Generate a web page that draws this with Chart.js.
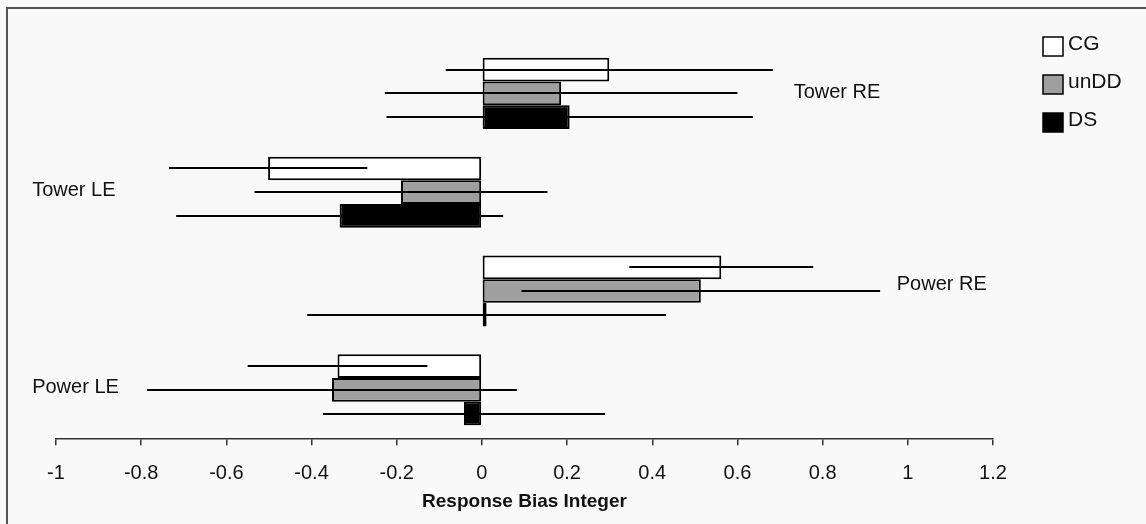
<!DOCTYPE html>
<html>
<head>
<meta charset="utf-8">
<script src="https://cdn.jsdelivr.net/npm/chart.js@4/dist/chart.umd.min.js"></script>
<style>
  html, body { margin: 0; padding: 0; background: #f9f9f9; }
  #wrap { width: 1146px; height: 524px; position: relative; }
</style>
</head>
<body>
<div id="wrap"><canvas id="c" width="1146" height="524"></canvas></div>
<script>
// ---- data ----
const categories = ['Tower RE', 'Tower LE', 'Power RE', 'Power LE'];
const seriesNames = ['CG', 'unDD', 'DS'];
const cgValues   = [0.299, -0.502, 0.562, -0.339];
const unddValues = [0.186, -0.190, 0.514, -0.352];
const dsValues   = [0.206, -0.334, 0.011, -0.042];
const cgErrors   = [0.384, 0.233, 0.216, 0.211];
const unddErrors = [0.414, 0.344, 0.421, 0.434];
const dsErrors   = [0.430, 0.384, 0.421, 0.331];
const xTickMin = -1, xTickMax = 1.2, xTickStep = 0.2;
const xTitle = 'Response Bias Integer';

const FONT = '"Liberation Sans", Arial, sans-serif';
const fills = ['#ffffff', '#9f9f9f', '#000000'];
const allErrors = [cgErrors, unddErrors, dsErrors];

const frame = {
  id: 'frame',
  beforeDraw(chart) {
    const ctx = chart.ctx;
    ctx.save();
    ctx.strokeStyle = '#555';
    ctx.lineWidth = 2;
    ctx.beginPath();
    ctx.moveTo(7, 524); ctx.lineTo(7, 8); ctx.lineTo(1146, 8);
    ctx.stroke();
    ctx.restore();
  }
};

const errorBars = {
  id: 'errorBars',
  afterDatasetsDraw(chart) {
    const ctx = chart.ctx, xs = chart.scales.x;
    ctx.save();
    ctx.strokeStyle = '#000';
    ctx.lineWidth = 2;
    chart.data.datasets.forEach((ds, i) => {
      const meta = chart.getDatasetMeta(i);
      meta.data.forEach((bar, j) => {
        const v = ds.data[j], e = allErrors[i][j];
        const y = Math.round(bar.y);
        ctx.beginPath();
        ctx.moveTo(xs.getPixelForValue(v - e), y);
        ctx.lineTo(xs.getPixelForValue(v + e), y);
        ctx.stroke();
      });
    });
    ctx.restore();
  }
};

// category labels placed beside the bars
const catLabels = {
  id: 'catLabels',
  afterDraw(chart) {
    const ctx = chart.ctx, xs = chart.scales.x, ys = chart.scales.y;
    const anchors = [0.732, -1.056, 0.974, -1.056];
    const dy = [-1, -2, -7, -2];
    ctx.save();
    ctx.fillStyle = '#111';
    ctx.font = '20px ' + FONT;
    ctx.textAlign = 'left';
    ctx.textBaseline = 'middle';
    categories.forEach((c, j) => {
      ctx.fillText(c, xs.getPixelForValue(anchors[j]), ys.getPixelForValue(j) + dy[j]);
    });
    ctx.restore();
  }
};

const legendBox = {
  id: 'legendBox',
  afterDraw(chart) {
    const ctx = chart.ctx;
    ctx.save();
    ctx.font = '21px ' + FONT;
    ctx.textBaseline = 'middle';
    ctx.textAlign = 'left';
    seriesNames.forEach((n, i) => {
      const y = 37 + i * 38;
      ctx.fillStyle = fills[i];
      ctx.fillRect(1043, y, 20, 19);
      ctx.strokeStyle = '#000';
      ctx.lineWidth = 1.5;
      ctx.strokeRect(1043, y, 20, 19);
      ctx.fillStyle = '#111';
      ctx.fillText(n, 1068, y + 7);
    });
    ctx.restore();
  }
};

new Chart(document.getElementById('c'), {
  type: 'bar',
  data: {
    labels: categories,
    datasets: [
      { label: seriesNames[0], data: cgValues,   backgroundColor: fills[0] },
      { label: seriesNames[1], data: unddValues, backgroundColor: fills[1] },
      { label: seriesNames[2], data: dsValues,   backgroundColor: fills[2] }
    ]
  },
  options: {
    indexAxis: 'y',
    responsive: false,
    animation: false,
    devicePixelRatio: 1,
    layout: { padding: { left: 56, right: 153, top: 44, bottom: 11 } },
    datasets: {
      bar: {
        borderColor: '#000',
        borderWidth: 2,
        borderSkipped: false,
        categoryPercentage: 0.72,
        barPercentage: 1.0
      }
    },
    plugins: { legend: { display: false }, tooltip: { enabled: false } },
    scales: {
      y: { display: false, grid: { display: false } },
      x: {
        min: xTickMin, max: xTickMax,
        grid: { drawOnChartArea: false, drawTicks: true, tickLength: 6, color: '#333', lineWidth: 1.5 },
        border: { display: true, color: '#333', width: 1.5 },
        ticks: {
          stepSize: xTickStep,
          padding: 16,
          color: '#111',
          font: { family: FONT, size: 20 },
          maxRotation: 0,
          callback: (v) => Number(v.toFixed(1)).toString()
        },
        title: {
          display: true, text: xTitle, color: '#111',
          font: { family: FONT, size: 19, weight: 'bold' },
          padding: { top: -11, bottom: 0 }
        }
      }
    }
  },
  plugins: [frame, errorBars, catLabels, legendBox]
});
</script>
</body>
</html>
